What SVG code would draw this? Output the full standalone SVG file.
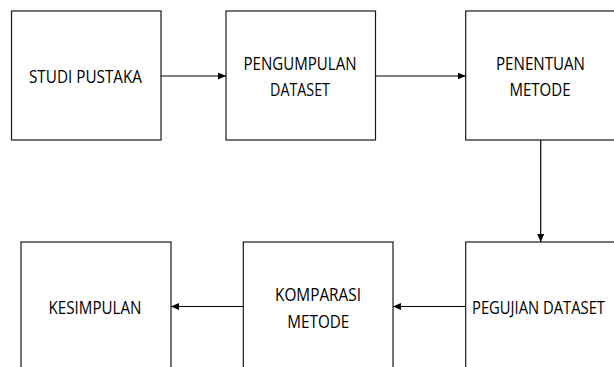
<svg xmlns="http://www.w3.org/2000/svg" width="614" height="367" viewBox="0 0 614 367">
  <style>
    .box { fill: #ffffff; stroke: #1a1a1a; stroke-width: 1.2; }
    .lbl { font-family: "Open Sans", "Liberation Sans", sans-serif; font-size: 18.5px; fill: #000000; text-anchor: middle; }
    .edge { fill: none; stroke: #000000; stroke-width: 1.2; }
  </style>
  <defs>
    <marker id="arrow" markerUnits="userSpaceOnUse" markerWidth="9" markerHeight="8" refX="8" refY="3.5" orient="auto">
      <path d="M0,0 L8,3.5 L0,7 Z" fill="#000000"/>
    </marker>
  </defs>
  <rect width="614" height="367" fill="#ffffff"/>

  <!-- top row -->
  <g id="studi-pustaka">
    <rect class="box" x="11.5" y="11" width="149.5" height="129"/>
    <text class="lbl" x="85.5" y="82.5" textLength="113" lengthAdjust="spacingAndGlyphs">STUDI PUSTAKA</text>
  </g>
  <g id="pengumpulan-dataset">
    <rect class="box" x="226" y="11" width="149.5" height="129"/>
    <text class="lbl" x="300" y="69.5" textLength="113" lengthAdjust="spacingAndGlyphs">PENGUMPULAN</text>
    <text class="lbl" x="300" y="96" textLength="60" lengthAdjust="spacingAndGlyphs">DATASET</text>
  </g>
  <g id="penentuan-metode">
    <rect class="box" x="465.7" y="11" width="150" height="129"/>
    <text class="lbl" x="540.5" y="69.5" textLength="89" lengthAdjust="spacingAndGlyphs">PENENTUAN</text>
    <text class="lbl" x="540" y="96" textLength="61" lengthAdjust="spacingAndGlyphs">METODE</text>
  </g>

  <!-- bottom row -->
  <g id="kesimpulan">
    <rect class="box" x="21" y="242" width="150" height="130"/>
    <text class="lbl" x="95" y="313.5" textLength="93" lengthAdjust="spacingAndGlyphs">KESIMPULAN</text>
  </g>
  <g id="komparasi-metode">
    <rect class="box" x="243.3" y="242" width="149.7" height="130"/>
    <text class="lbl" x="318" y="300.5" textLength="86" lengthAdjust="spacingAndGlyphs">KOMPARASI</text>
    <text class="lbl" x="318.3" y="327.5" textLength="62" lengthAdjust="spacingAndGlyphs">METODE</text>
  </g>
  <g id="pegujian-dataset">
    <rect class="box" x="465.7" y="242" width="150" height="130"/>
    <text class="lbl" x="538.5" y="313.5" textLength="133" lengthAdjust="spacingAndGlyphs">PEGUJIAN DATASET</text>
  </g>

  <!-- connectors -->
  <g id="connectors">
    <line class="edge" x1="161" y1="76" x2="226" y2="76" marker-end="url(#arrow)"/>
    <line class="edge" x1="375.5" y1="76" x2="465.7" y2="76" marker-end="url(#arrow)"/>
    <line class="edge" x1="540.7" y1="140" x2="540.7" y2="242" marker-end="url(#arrow)"/>
    <line class="edge" x1="465.7" y1="306.5" x2="393" y2="306.5" marker-end="url(#arrow)"/>
    <line class="edge" x1="243.3" y1="306.5" x2="171" y2="306.5" marker-end="url(#arrow)"/>
  </g>
</svg>
